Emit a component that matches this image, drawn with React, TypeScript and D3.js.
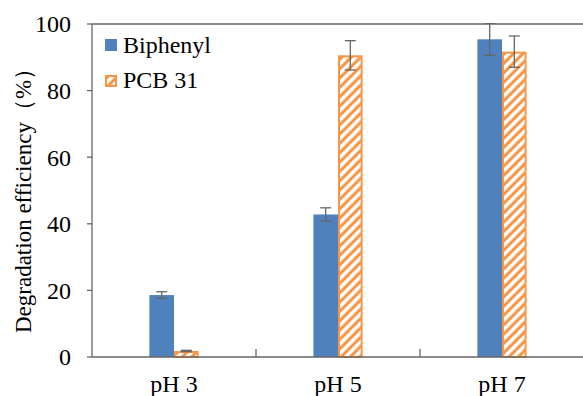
import * as d3 from 'd3';

const categories = ['pH 3', 'pH 5', 'pH 7'];
const seriesNames = ['Biphenyl', 'PCB 31'];
const biphenyl = [18.6, 42.8, 95.4];
const biphenylErr = [1.0, 2.0, 4.8];
const pcb31 = [1.8, 90.6, 91.7];
const pcb31Err = [0.2, 4.4, 4.7];
const yTicks = [0, 20, 40, 60, 80, 100];

const W = 583;
const H = 396;
const margin = { top: 24, right: -1, bottom: 39, left: 92 };
const BLUE = '#4f81bd';
const ORANGE = '#f79646';
const AXIS = '#666666';
const FONT = "'Liberation Serif', 'Times New Roman', Times, serif";

export default function App() {
  const x = d3
    .scaleBand()
    .domain(categories)
    .range([margin.left, W - margin.right])
    .paddingInner(0)
    .paddingOuter(0);

  const y = d3
    .scaleLinear()
    .domain([0, 100])
    .range([H - margin.bottom, margin.top]);

  // bars take 30% of each category, centered
  const groupW = x.bandwidth() * 0.3;
  const inner = d3
    .scaleBand()
    .domain(seriesNames)
    .range([0, groupW]);

  const series = [
    { name: seriesNames[0], values: biphenyl, err: biphenylErr, fill: BLUE, stroke: BLUE, sw: 0 },
    { name: seriesNames[1], values: pcb31, err: pcb31Err, fill: 'url(#hatch)', stroke: ORANGE, sw: 2 },
  ];

  const baseY = y(0);

  return (
    <svg
      width={W}
      height={H}
      style={{ position: 'absolute', left: 0, top: 0, background: '#fff', fontFamily: FONT }}
    >
      <defs>
        <pattern id="hatch" patternUnits="userSpaceOnUse" width={6.6} height={6.6} patternTransform="rotate(45)">
          <rect width={6.6} height={6.6} fill={ORANGE} />
          <rect x={0} width={3.5} height={6.6} fill="#fff" />
        </pattern>
        <clipPath id="plot">
          <rect x={margin.left} y={margin.top - 1} width={W - margin.left} height={baseY - margin.top + 1} />
        </clipPath>
      </defs>

      {/* top border of plot area */}
      <line x1={margin.left} x2={W} y1={margin.top} y2={margin.top} stroke={AXIS} strokeWidth={1.3} />

      {/* bars */}
      {series.map((s) =>
        categories.map((c, i) => {
          const bx = x(c)! + (x.bandwidth() - groupW) / 2 + inner(s.name)!;
          const bw = inner.bandwidth();
          const top = y(s.values[i]);
          const half = s.sw / 2;
          return (
            <rect
              key={s.name + c}
              x={bx + half}
              y={top + half}
              width={bw - s.sw}
              height={baseY - top - half}
              fill={s.fill}
              stroke={s.sw ? s.stroke : 'none'}
              strokeWidth={s.sw}
            />
          );
        })
      )}

      {/* error bars */}
      <g clipPath="url(#plot)" stroke={AXIS} strokeWidth={1.3}>
        {series.map((s) =>
          categories.map((c, i) => {
            const cx = x(c)! + (x.bandwidth() - groupW) / 2 + inner(s.name)! + inner.bandwidth() / 2;
            const hi = y(s.values[i] + s.err[i]);
            const lo = y(s.values[i] - s.err[i]);
            return (
              <g key={'e' + s.name + c}>
                <line x1={cx} x2={cx} y1={hi} y2={lo} />
                <line x1={cx - 5.5} x2={cx + 5.5} y1={hi} y2={hi} />
                <line x1={cx - 5.5} x2={cx + 5.5} y1={lo} y2={lo} />
              </g>
            );
          })
        )}
      </g>

      {/* y axis */}
      <line x1={margin.left} x2={margin.left} y1={margin.top} y2={baseY} stroke={AXIS} strokeWidth={1.3} />
      {yTicks.map((t) => (
        <g key={t}>
          <line x1={margin.left - 5} x2={margin.left} y1={y(t)} y2={y(t)} stroke={AXIS} strokeWidth={1.3} />
          <text x={71} y={y(t)} dy="0.35em" textAnchor="end" fontSize={24} fill="#000">
            {t}
          </text>
        </g>
      ))}

      {/* x axis */}
      <line x1={margin.left} x2={W} y1={baseY} y2={baseY} stroke={AXIS} strokeWidth={1.3} />
      {categories.slice(1).map((c) => (
        <line key={c} x1={x(c)!} x2={x(c)!} y1={baseY - 8} y2={baseY} stroke={AXIS} strokeWidth={1.3} />
      ))}
      {categories.map((c) => (
        <text key={c} x={x(c)! + x.bandwidth() / 2} y={392} textAnchor="middle" fontSize={24} fill="#000">
          {c}
        </text>
      ))}

      {/* y title */}
      <text
        transform={`translate(31,${195}) rotate(-90)`}
        textAnchor="middle"
        fontSize={23}
        fill="#000"
      >
        Degradation efficiency（%）
      </text>

      {/* legend */}
      <rect x={105} y={39} width={12} height={12} fill={BLUE} />
      <text x={123} y={53} fontSize={24} fill="#000">
        {seriesNames[0]}
      </text>
      <rect x={106} y={76} width={10} height={10} fill="url(#hatch)" stroke={ORANGE} strokeWidth={2} />
      <text x={123} y={88} fontSize={24} fill="#000">
        {seriesNames[1]}
      </text>
    </svg>
  );
}
